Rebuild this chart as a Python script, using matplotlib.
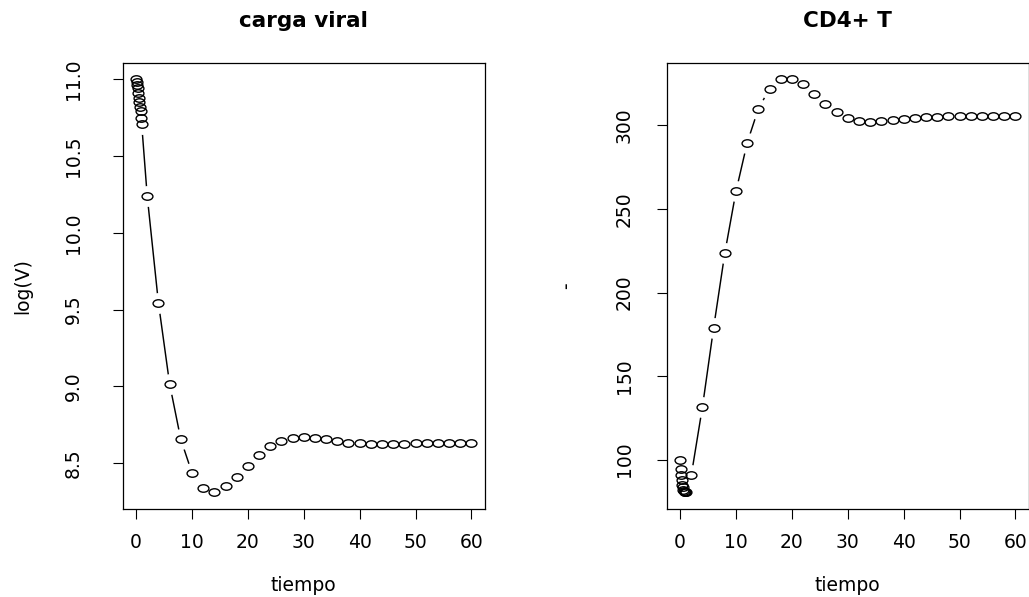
import matplotlib
matplotlib.use("Agg")
import matplotlib.pyplot as plt
from matplotlib.path import Path
from matplotlib.transforms import Affine2D

# time points (cluster in the first unit, then every 2)
tiempo = [0.0, 0.1, 0.2, 0.3, 0.4, 0.5, 0.6, 0.7, 0.8, 0.9, 1.0,
          2, 4, 6, 8, 10, 12, 14, 16, 18, 20, 22, 24, 26, 28, 30,
          32, 34, 36, 38, 40, 42, 44, 46, 48, 50, 52, 54, 56, 58, 60]

log_v = [11.00, 10.98, 10.96, 10.94, 10.91, 10.88, 10.85, 10.82, 10.79, 10.75, 10.71,
         10.237, 9.544, 9.017, 8.656, 8.438, 8.337, 8.310, 8.350, 8.410, 8.484,
         8.552, 8.613, 8.647, 8.665, 8.673, 8.665, 8.656, 8.647, 8.634, 8.630,
         8.628, 8.625, 8.625, 8.628, 8.630, 8.632, 8.632, 8.632, 8.632, 8.632]

cd4 = [100.0, 94.6, 90.6, 87.5, 85.0, 83.3, 82.0, 81.2, 80.7, 80.4, 80.3,
       90.6, 131.6, 179.0, 223.6, 260.6, 289.6, 310.0, 322.0, 327.7, 327.7,
       324.7, 319.0, 313.0, 308.3, 304.7, 302.6, 302.0, 302.4, 303.0, 303.6,
       304.2, 304.8, 305.2, 305.4, 305.5, 305.5, 305.5, 305.5, 305.5, 305.5]

x_ticks = [0, 10, 20, 30, 40, 50, 60]
v_ticks = [8.5, 9.0, 9.5, 10.0, 10.5, 11.0]
cd4_ticks = [100, 150, 200, 250, 300]

plt.rcParams['font.family'] = ['DejaVu Sans']

# slightly wide open circle, like the stretched R symbols
ellipse = Path.unit_circle().transformed(Affine2D().scale(1.45, 1.0))

fig = plt.figure(figsize=(10.29, 5.97), dpi=100)
ax1 = fig.add_axes([0.1192, 0.1474, 0.352, 0.7476])
ax2 = fig.add_axes([0.6479, 0.1474, 0.352, 0.7476])


def panel(ax, y, title, ylabel, yticks, yfmt, ypad):
    # R type="b": line with gaps around the points
    ax.plot(tiempo, y, color='black', lw=1.05, zorder=2)
    ax.plot(tiempo, y, ls='none', marker='o', ms=15, mfc='white', mec='none', zorder=2.1)
    ax.plot(tiempo, y, ls='none', marker=ellipse, ms=7.8, mfc='none', mec='black',
            mew=1.0, zorder=2.2)
    ax.margins(x=0.04, y=0.04)
    ax.set_xticks(x_ticks)
    ax.set_yticks(yticks)
    ax.set_yticklabels([yfmt.format(v) for v in yticks], rotation=90, va='center')
    ax.tick_params(axis='both', direction='out', length=7.5, width=0.8,
                   labelsize=13.5, colors='black')
    ax.tick_params(axis='x', pad=10)
    ax.tick_params(axis='y', pad=ypad)
    for s in ax.spines.values():
        s.set_linewidth(0.9)
    ax.set_title(title, fontsize=15.5, fontweight='bold', pad=25.5)
    ax.set_xlabel('tiempo', fontsize=13.5)
    ax.xaxis.set_label_coords(0.5, -0.151)
    ax.set_ylabel(ylabel, fontsize=13.5)
    ax.yaxis.set_label_coords(-0.25, 0.5)


panel(ax1, log_v, 'carga viral', 'log(V)', v_ticks, '{:.1f}', 21)
panel(ax2, cd4, 'CD4+ T', '-', cd4_ticks, '{:d}', 16)

fig.savefig('out.png', dpi=100)
